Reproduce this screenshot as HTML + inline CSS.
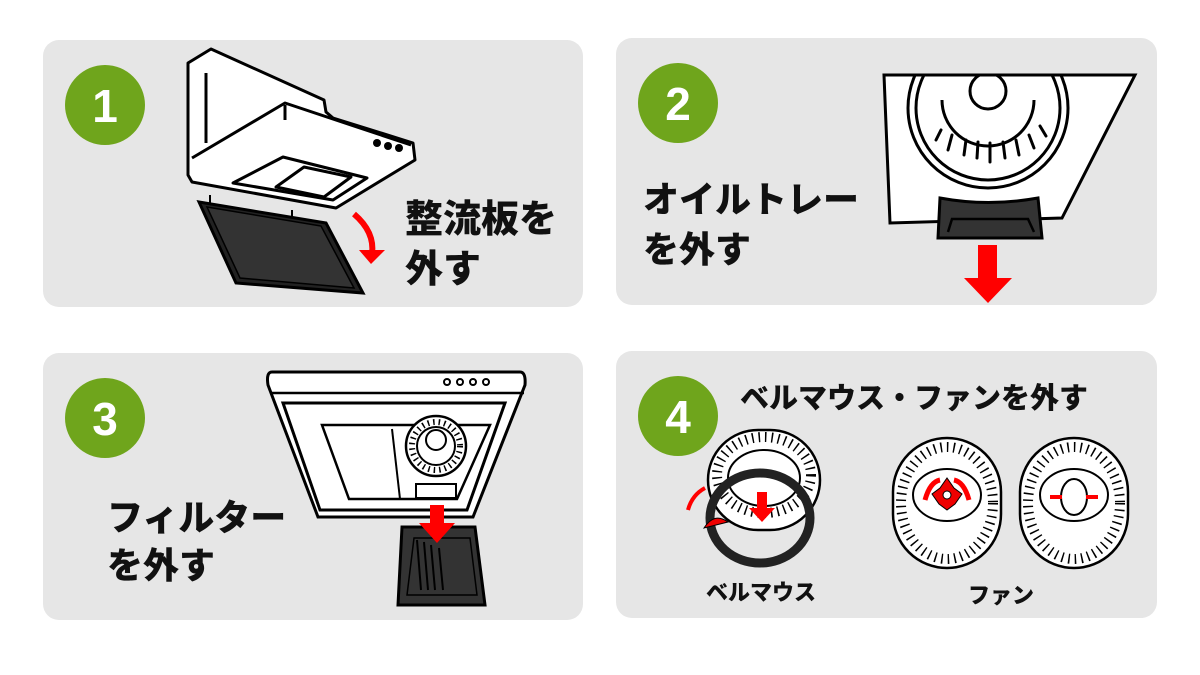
<!DOCTYPE html>
<html><head><meta charset="utf-8"><style>
html,body{margin:0;padding:0;background:#fff;}
svg{display:block;}
text{font-family:"Liberation Sans","Noto Sans CJK JP",sans-serif;font-weight:900;fill:#111;}
.n{fill:#fff;font-size:46px;text-anchor:middle;}
</style></head><body>
<svg width="1200" height="675" viewBox="0 0 1200 675" xmlns="http://www.w3.org/2000/svg">
<defs>
<clipPath id="c2"><path d="M884 75 L1135 75 L1062 218 L890 223 Z"/></clipPath>
</defs>
<rect width="1200" height="675" fill="#fff"/>
<g fill="#e6e6e6">
<rect x="43" y="40" width="540" height="267" rx="16"/>
<rect x="616" y="38" width="541" height="267" rx="16"/>
<rect x="43" y="353" width="540" height="267" rx="16"/>
<rect x="616" y="351" width="541" height="267" rx="16"/>
</g>
<g fill="#6fa51c">
<circle cx="105" cy="105" r="40"/><circle cx="678" cy="103" r="40"/>
<circle cx="105" cy="418" r="40"/><circle cx="678" cy="416" r="40"/>
</g>
<text class="n" x="105" y="122">1</text><text class="n" x="678" y="120">2</text>
<text class="n" x="105" y="435">3</text><text class="n" x="678" y="433">4</text>

<!-- panel1 hood -->
<g stroke="#000" stroke-width="3" fill="#fff" stroke-linejoin="round">
<path d="M211 49 L324 100 L326 112 L333 118 L413 143 L415 160 L336 208 L192 182 L188 175 L188 63 Z"/>
<path d="M192 158 L285 103 L411 145" fill="none"/>
<path d="M206 73 L206 143 M285 105 L285 120" fill="none"/>
<path d="M233 183 L283 157 L367 178 L333 200 Z"/>
<path d="M276 187 L304 167 L351 177 L324 197 Z"/>
</g>
<g fill="#000"><circle cx="377" cy="143" r="4"/><circle cx="388" cy="146" r="4"/><circle cx="399" cy="148" r="4"/></g>
<path d="M210 195 L210 205 M292 210 L292 222" stroke="#000" stroke-width="2"/>
<path d="M199 202 L326 223 L363 293 L236 283 Z" fill="#222" stroke="#000" stroke-width="3"/>
<path d="M207 207 L321 226 L354 288 L240 278 Z" fill="#333" stroke="#000" stroke-width="1.5"/>
<path d="M354 214 Q375 232 372 254" stroke="#f00" stroke-width="6" fill="none"/>
<path d="M359 250 L385 250 L371 264 Z" fill="#f00"/>
<text x="405" y="232" font-size="38">整流板を</text>
<text x="405" y="282" font-size="38">外す</text>

<!-- panel2 -->
<path d="M884 75 L1135 75 L1062 218 L890 223 Z" fill="#fff" stroke="#000" stroke-width="3"/>
<g clip-path="url(#c2)" fill="none" stroke="#000" stroke-width="3">
<circle cx="988" cy="108" r="80"/>
<circle cx="988" cy="108" r="72"/>
<path d="M942 100 A46 46 0 0 0 1034 100"/>
<circle cx="988" cy="91" r="18"/>
<g stroke-width="3" stroke-linecap="round">
<path d="M941 130 L936 140 M952 135 L948 150 M966 140 L964 155 M978 142 L977 158 M990 143 L990 162 M1003 142 L1005 158 M1016 140 L1019 155 M1029 135 L1034 148 M1040 126 L1046 136"/>
</g>
</g>
<path d="M940 198 Q988 207 1038 198 L1042 238 L938 238 Z" fill="#333" stroke="#000" stroke-width="3"/>
<path d="M948 232 L952 219 L1028 219 L1034 232" fill="none" stroke="#000" stroke-width="2.5"/>
<path d="M978 245 L997 245 L997 278 L1012 278 L988 303 L964 278 L978 278 Z" fill="#f00"/>
<text x="643" y="212" font-size="36">オイルトレー</text>
<text x="643" y="262" font-size="36">を外す</text>

<!-- panel3 -->
<path d="M272 372 L520 372 Q526 372 525 385 L473 517 L318 517 L268 385 Q266 372 272 372 Z" fill="#fff" stroke="#000" stroke-width="3"/>
<path d="M270 393 L524 393" stroke="#000" stroke-width="2.5"/>
<path d="M283 403 L505 403 L467 510 L320 510 Z" fill="#fff" stroke="#000" stroke-width="3"/>
<path d="M322 425 L490 425 L457 499 L349 499 Z" fill="#fff" stroke="#000" stroke-width="2.5"/>
<path d="M392 429 L400 499" stroke="#000" stroke-width="2"/>
<circle cx="436" cy="446" r="30" fill="#fff" stroke="#000" stroke-width="2.5"/>
<circle cx="436" cy="446" r="24" fill="none" stroke="#000" stroke-width="6" stroke-dasharray="1.5 4"/>
<circle cx="436" cy="446" r="19" fill="#fff" stroke="#000" stroke-width="2"/>
<circle cx="436" cy="440" r="10" fill="#fff" stroke="#000" stroke-width="2"/>
<rect x="416" y="484" width="40" height="14" fill="#fff" stroke="#000" stroke-width="2"/>
<g fill="none" stroke="#000" stroke-width="2"><circle cx="447" cy="382" r="3"/><circle cx="460" cy="382" r="3"/><circle cx="473" cy="382" r="3"/><circle cx="486" cy="382" r="3"/></g>
<path d="M402 527 L475 527 L485 605 L398 605 Z" fill="#333" stroke="#000" stroke-width="3"/>
<path d="M414 538 L470 538 L477 595 L407 595 Z" fill="none" stroke="#000" stroke-width="1.5"/>
<path d="M417 540 L421 590 M424 542 L428 590 M431 545 L435 590 M439 548 L443 590" stroke="#000" stroke-width="2"/>
<path d="M430 505 L444 505 L444 523 L455 523 L437 543 L419 523 L430 523 Z" fill="#f00"/>
<text x="107" y="530" font-size="36">フィルター</text>
<text x="107" y="578" font-size="36">を外す</text>

<!-- panel4 -->
<text x="740" y="408" font-size="29">ベルマウス・ファンを外す</text>
<g stroke="#000" stroke-width="2.5" fill="#fff">
<rect x="708" y="430" width="112" height="100" rx="50"/>
<rect x="893" y="438" width="108" height="130" rx="54"/>
<rect x="1020" y="438" width="108" height="130" rx="54"/>
</g>
<g stroke="#000" stroke-width="10" fill="none" stroke-dasharray="1.5 5">
<ellipse cx="764" cy="475" rx="47" ry="38"/>
<ellipse cx="947" cy="503" rx="46" ry="56"/>
<ellipse cx="1074" cy="503" rx="46" ry="56"/>
</g>
<g stroke="#000" stroke-width="2" fill="#fff">
<ellipse cx="764" cy="478" rx="36" ry="28"/>
<ellipse cx="947" cy="495" rx="34" ry="26"/>
<ellipse cx="1074" cy="495" rx="34" ry="26"/>
<ellipse cx="1074" cy="497" rx="13" ry="18"/>
</g>
<ellipse cx="760" cy="518" rx="50" ry="45" fill="none" stroke="#222" stroke-width="9"/>
<path d="M940 488 L947 478 L954 488 L962 494 L955 504 L947 510 L939 504 L932 494 Z" fill="#e00" stroke="#000" stroke-width="1"/>
<circle cx="947" cy="495" r="4" fill="#fff" stroke="#000"/>
<path d="M925 500 Q930 482 940 480 M969 500 Q964 482 954 480" stroke="#f00" stroke-width="5" fill="none"/>
<path d="M1050 497 L1062 497 M1098 497 L1086 497" stroke="#f00" stroke-width="4"/>
<path d="M757 492 L767 492 L767 508 L775 508 L762 522 L749 508 L757 508 Z" fill="#f00"/>
<path d="M705 488 Q692 495 688 510" stroke="#f00" stroke-width="4" fill="none"/>
<path d="M704 528 Q714 512 728 522 Z" fill="#e00" stroke="#000" stroke-width="1"/>
<text x="706" y="600" font-size="22">ベルマウス</text>
<text x="968" y="603" font-size="22">ファン</text>
</svg>
</body></html>
